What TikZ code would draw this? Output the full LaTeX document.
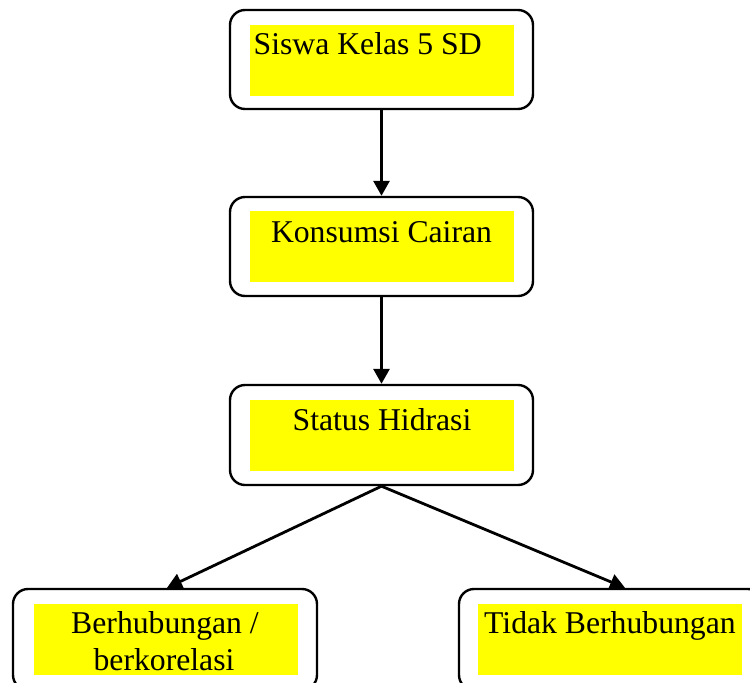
\documentclass[tikz,border=0pt]{standalone}
\usepackage{fontspec}
\setmainfont{Liberation Serif}
\usetikzlibrary{arrows.meta}
\definecolor{hlyellow}{RGB}{255,255,0}
\tikzset{
  box/.style={draw=black, line width=2.4pt, rounded corners=15pt, fill=white, inner sep=0pt},
  hl/.style={fill=hlyellow},
  lbl/.style={font=\fontsize{31.7}{37}\selectfont, inner sep=0pt, text=black},
  conn/.style={line width=2.8pt, -{Triangle[length=15pt,width=16pt]}}
}
\begin{document}
\begin{tikzpicture}[x=1pt,y=-1pt]
\useasboundingbox (0,0) rectangle (750,683);
\clip (0,0) rectangle (750,683);
% outer boxes
\node[box, minimum width=303pt, minimum height=99pt] (b1) at (381.5,59.5) {};
\node[box, minimum width=303pt, minimum height=99pt] (b2) at (381.5,246.5) {};
\node[box, minimum width=303pt, minimum height=100pt] (b3) at (381.5,435) {};
\node[box, minimum width=304pt, minimum height=101pt] (b4) at (165,639.5) {};
\node[box, minimum width=304pt, minimum height=101pt] (b5) at (611,639.5) {};
% yellow highlights
\fill[hl] (250,25) rectangle (514,96);
\fill[hl] (250,211) rectangle (514,282);
\fill[hl] (250,400) rectangle (514,471);
\fill[hl] (34,604) rectangle (298,675);
\fill[hl] (478,604) rectangle (742,675);
% texts
\node[lbl, anchor=base west] (t1) at (253.5,54) {Siswa Kelas 5 SD};
\node[lbl, anchor=base] (t2) at (381.5,242) {Konsumsi Cairan};
\node[lbl, anchor=base] (t3) at (382,430) {Status Hidrasi};
\node[lbl, anchor=base] (t4a) at (165,633) {Berhubungan /};
\node[lbl, anchor=base] (t4b) at (164,670) {berkorelasi};
\node[lbl, anchor=base] (t5) at (610,633) {Tidak Berhubungan};
% connectors
\draw[conn] (b1.south) -- (b2.north);
\draw[conn] (b2.south) -- (b3.north);
\draw[conn] (b3.south) -- ([xshift=2pt]b4.north);
\draw[conn] (b3.south) -- ([xshift=14pt]b5.north);
\end{tikzpicture}
\end{document}
